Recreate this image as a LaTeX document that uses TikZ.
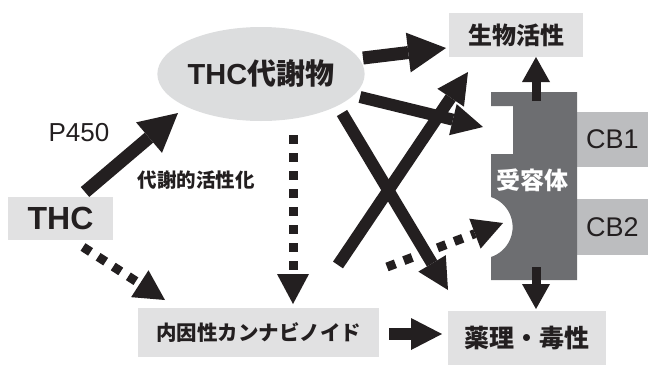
\documentclass[tikz,border=0pt]{standalone}
\usepackage{fontspec}
\setmainfont{Liberation Sans}
\newfontfamily\jp{Noto Sans CJK JP}
\usetikzlibrary{arrows.meta,shapes.geometric,calc}
\definecolor{ink}{HTML}{231F20}
\definecolor{lightbox}{HTML}{E1E1E2}
\definecolor{ellfill}{HTML}{DCDDDE}
\definecolor{cbfill}{HTML}{BCBDBF}
\definecolor{recfill}{HTML}{6D6E71}
\begin{document}
\begin{tikzpicture}[x=1pt,y=-1pt,
  box/.style={fill=lightbox, inner sep=0pt, text=ink},
  cbbox/.style={fill=cbfill, inner sep=0pt, text=ink, font=\fontsize{27}{27}\selectfont},
  jpb/.style={font=\jp\bfseries\fontsize{#1}{#1}\selectfont},
  fat/.style={draw=ink, line width=13pt, -{Triangle[length=38pt,width=40pt,line width=0pt]}},
  mid/.style={draw=ink, line width=12pt, -{Triangle[length=31pt,width=32pt,line width=0pt]}},
  small/.style={draw=ink, line width=9pt, -{Triangle[length=25pt,width=28pt,line width=0pt]}},
  dots/.style={draw=ink, line width=9pt, dash pattern=on 9pt off 9pt, -{Triangle[length=30pt,width=32pt,line width=0pt]}}]
\useasboundingbox (0,0) rectangle (648,365);

% receptor parts
\node[cbbox, minimum width=71pt, minimum height=55pt] (cb1) at (612.5,139.5) {CB1};
\node[cbbox, minimum width=71pt, minimum height=56pt] (cb2) at (612.5,227) {CB2};
\path[fill=recfill] (491,92) -- (577,92) -- (577,280) -- (491,280) -- (491,257)
  arc[start angle=-71.57, end angle=71.57, radius=31.62pt] -- (491,154) -- (513,154)
  -- (513,106) -- (491,106) -- cycle;
\node[jpb=24, text=white, inner sep=0pt] (rec) at (532,180) {受容体};

% nodes
\node[ellipse, fill=ellfill, minimum width=186pt, minimum height=94pt, inner sep=0pt, text=ink] (met) at (261,74)
  {\fontsize{29}{29}\selectfont\bfseries THC\jp 代謝物};
\node[box, minimum width=134pt, minimum height=44pt, jpb=24] (bio) at (516,35) {生物活性};
\node[box, minimum width=158pt, minimum height=54pt, jpb=25] (tox) at (527,338) {薬理・毒性};
\node[box, minimum width=241pt, minimum height=49pt, jpb=20.5] (endo) at (258.5,332.5) {内因性カンナビノイド};
\node[box, minimum width=105pt, minimum height=43pt, font=\bfseries\fontsize{32}{32}\selectfont] (thc) at (60.5,218.5) {THC};
\node[text=ink, inner sep=0pt, font=\fontsize{26}{26}\selectfont] (p450) at (79,133) {P450};
\node[text=ink, inner sep=0pt, jpb=19.5] (act) at (196,180) {代謝的活性化};

% connector end points
\coordinate (a1s) at (85,192);   \coordinate (a1e) at (178,113);
\coordinate (a2s) at (83,247);   \coordinate (a2e) at (165,300);
\coordinate (a3s) at (293,135);  \coordinate (a3e) at (293,304);
\coordinate (a4s) at (363,58);   \coordinate (a4e) at (446,48);
\coordinate (a5s) at (360,97);   \coordinate (a5e) at (483,127);
\coordinate (a6s) at (342,113);  \coordinate (a6e) at (448,290);
\coordinate (a7s) at (338,265);  \coordinate (a7e) at (468,72);
\coordinate (a8s) at (387,267);  \coordinate (a8e) at (503,223);
\coordinate (a9s) at (536,101);  \coordinate (a9e) at (536,57);
\coordinate (a10s) at (536,267); \coordinate (a10e) at (536,309);
\coordinate (a11s) at (389,334); \coordinate (a11e) at (442,334);

\draw[fat] (a1s) -- (a1e);
\draw[dots] (a2s) -- (a2e);
\draw[dots] (a3s) -- (a3e);
\draw[fat] (a4s) -- (a4e);
\draw[mid] (a5s) -- (a5e);
\draw[mid] (a6s) -- (a6e);
\draw[mid] (a7s) -- (a7e);
\draw[dots] (a8s) -- (a8e);
\draw[small] (a9s) -- (a9e);
\draw[small] (a10s) -- (a10e);
\draw[mid] (a11s) -- (a11e);
\end{tikzpicture}
\end{document}
